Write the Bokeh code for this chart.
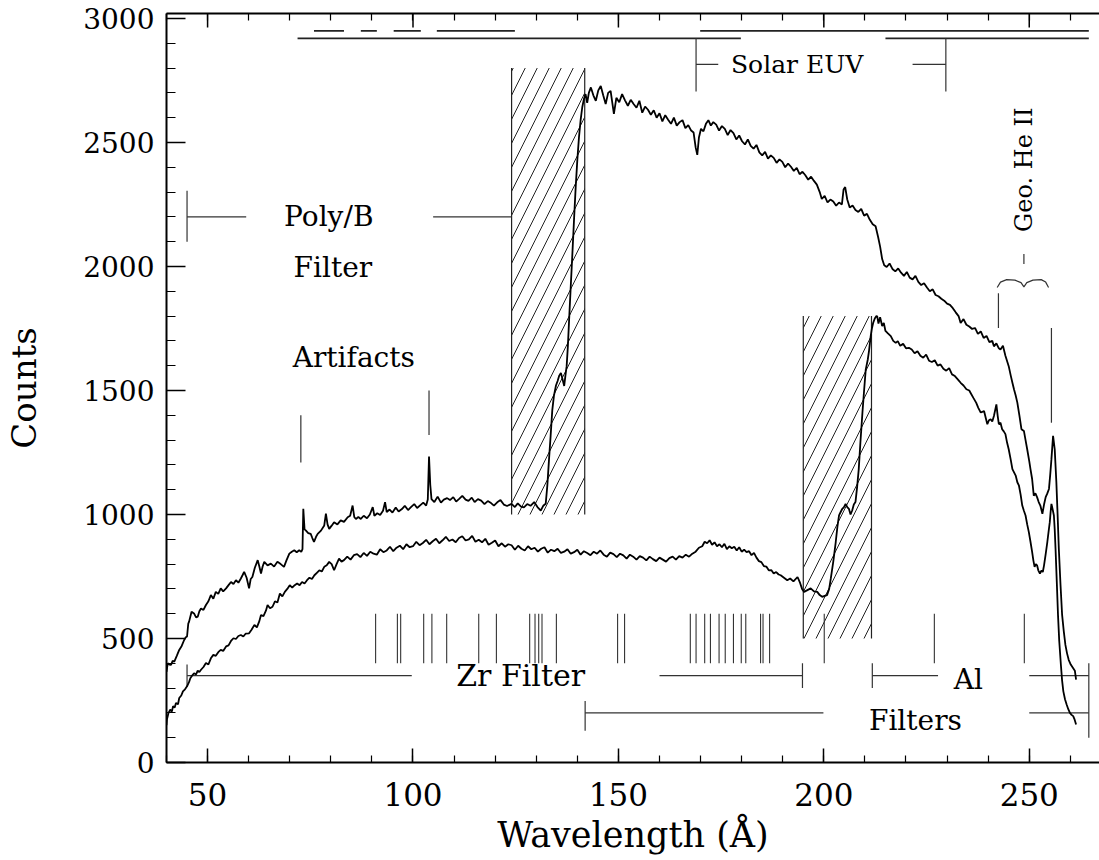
from math import pi
from bokeh.plotting import figure
from bokeh.models import Range1d, LinearAxis, FixedTicker
from bokeh.core.properties import value
from bokeh.embed import file_html
from bokeh.resources import INLINE

# ---------------- spectra (wavelength in Angstrom, counts) ----------------
upper_wl = [40.0, 40.3, 40.7, 41.1, 41.5, 41.9, 42.5, 43.1, 43.7, 44.3, 44.7, 45.0, 45.3, 45.5, 46.1, 46.7, 47.2, 47.6, 48.0, 48.4,
            49.0, 49.6, 50.2, 50.8, 51.4, 52.0, 52.6, 53.2, 53.8, 54.5, 55.1, 55.7, 56.3, 56.9, 57.5, 58.1, 58.5, 58.9, 59.5, 60.1,
            60.5, 60.9, 61.5, 62.2, 62.6, 63.0, 63.4, 63.8, 64.6, 65.4, 66.2, 67.0, 67.8, 68.6, 69.2, 69.9, 70.5, 71.1, 71.7, 72.3,
            72.8, 73.1, 73.3, 73.6, 73.9, 74.5, 75.1, 75.5, 75.9, 76.4, 76.8, 77.6, 78.4, 78.8, 79.2, 79.6, 80.2, 80.8, 81.6, 82.4,
            83.2, 84.1, 84.7, 85.3, 85.7, 86.1, 86.7, 87.3, 88.0, 88.8, 89.5, 90.2, 90.6, 91.3, 92.0, 92.7, 93.2, 93.6, 94.3, 95.0,
            95.8, 96.5, 97.3, 98.0, 98.8, 99.5, 100.3, 101.0, 101.8, 102.5, 103.2, 103.6, 103.9, 104.2, 104.5, 105.2, 106.0, 106.8, 107.5, 108.3,
            109.0, 109.8, 110.5, 111.3, 112.0, 112.8, 113.5, 114.3, 115.0, 115.8, 116.6, 117.4, 118.2, 119.0, 119.7, 120.5, 121.3, 122.1, 122.9, 124.0,
            124.8, 125.5, 126.3, 127.0, 127.8, 128.6, 129.5, 130.3, 131.1, 131.7, 132.3, 132.7, 133.1, 133.5, 133.9, 134.3, 134.8, 135.2, 135.6, 136.0,
            136.4, 136.8, 137.1, 137.4, 137.7, 138.0, 138.4, 138.8, 139.2, 139.6, 140.0, 140.4, 140.8, 141.2, 141.6, 142.0, 142.4, 142.8, 143.3, 143.9,
            144.5, 145.1, 145.7, 146.3, 146.9, 147.5, 148.1, 148.9, 149.5, 150.2, 150.9, 151.6, 152.3, 153.0, 153.7, 154.4, 155.1, 155.8, 156.5, 157.2,
            157.9, 158.6, 159.3, 160.0, 160.7, 161.4, 162.1, 162.8, 163.5, 164.2, 164.9, 165.6, 166.3, 167.0, 167.7, 168.3, 168.8, 169.2, 169.6, 170.1,
            170.7, 171.3, 171.9, 172.5, 173.1, 173.8, 174.5, 175.2, 175.9, 176.6, 177.3, 178.0, 178.7, 179.4, 180.1, 180.8, 181.5, 182.2, 182.9, 183.6,
            184.3, 185.0, 185.7, 186.4, 187.1, 187.8, 188.5, 189.2, 189.9, 190.6, 191.3, 192.0, 192.7, 193.4, 194.1, 194.8, 195.5, 196.2, 196.9, 197.6,
            198.3, 199.0, 199.5, 200.2, 200.9, 201.6, 202.3, 203.0, 203.7, 204.4, 204.8, 205.2, 205.7, 206.3, 207.0, 207.7, 208.4, 209.1, 209.8, 210.5,
            211.2, 211.9, 212.6, 213.2, 213.7, 214.2, 214.7, 215.3, 216.0, 216.7, 217.4, 218.1, 218.8, 219.5, 220.2, 220.9, 221.6, 222.3, 223.0, 223.7,
            224.4, 225.1, 225.8, 226.5, 227.2, 227.9, 228.6, 229.3, 230.0, 230.7, 231.4, 232.1, 232.8, 233.3, 234.0, 234.7, 235.4, 236.1, 236.8, 237.5,
            238.2, 238.9, 239.6, 240.3, 241.0, 241.4, 242.0, 242.6, 243.0, 243.6, 244.2, 245.0, 245.5, 245.9, 246.3, 246.7, 247.1, 247.6, 248.1, 248.7,
            249.1, 249.5, 250.0, 250.3, 250.7, 251.1, 251.5, 251.9, 252.3, 252.7, 253.2, 253.6, 254.0, 254.4, 254.8, 255.1, 255.4, 255.8, 256.2, 256.6,
            256.9, 257.2, 257.6, 258.0, 258.4, 258.8, 259.2, 259.6, 260.1, 260.7, 261.1, 261.4]
upper_counts = [365, 400, 395, 394, 410, 407, 430, 454, 470, 494, 505, 508, 560, 568, 608, 601, 585, 588, 610, 621,
                615, 635, 650, 675, 660, 688, 680, 702, 690, 702, 715, 728, 720, 735, 725, 742, 755, 769, 745, 702,
                740, 748, 785, 816, 790, 762, 790, 809, 795, 802, 790, 809, 800, 789, 815, 842, 850, 856, 848, 856,
                849, 860, 1023, 940, 936, 925, 922, 905, 889, 910, 922, 935, 956, 1003, 960, 942, 955, 969, 960, 976,
                970, 989, 995, 1036, 990, 982, 990, 982, 995, 985, 1000, 1030, 995, 1005, 998, 1015, 1050, 1010, 1020, 1008,
                1028, 1012, 1022, 1035, 1018, 1030, 1042, 1026, 1038, 1048, 1036, 1060, 1234, 1120, 1062, 1050, 1072, 1048, 1060, 1066,
                1058, 1070, 1052, 1064, 1075, 1060, 1055, 1068, 1050, 1062, 1056, 1042, 1054, 1046, 1036, 1049, 1058, 1040, 1034, 1043,
                1030, 1045, 1032, 1029, 1042, 1035, 1050, 1030, 1016, 1035, 1043, 1117, 1220, 1317, 1420, 1478, 1520, 1538, 1560, 1571,
                1545, 1518, 1560, 1598, 1680, 1785, 1920, 2053, 2190, 2320, 2430, 2521, 2590, 2642, 2675, 2695, 2660, 2700, 2722, 2690,
                2668, 2710, 2728, 2690, 2655, 2700, 2708, 2615, 2680, 2662, 2695, 2670, 2648, 2672, 2655, 2640, 2668, 2620, 2645, 2632,
                2612, 2630, 2600, 2618, 2585, 2610, 2592, 2575, 2600, 2568, 2582, 2590, 2558, 2570, 2548, 2540, 2480, 2450, 2520, 2555,
                2545, 2575, 2590, 2568, 2582, 2572, 2548, 2566, 2555, 2530, 2550, 2538, 2512, 2528, 2505, 2492, 2512, 2486, 2475, 2490,
                2460, 2448, 2462, 2435, 2448, 2438, 2418, 2432, 2422, 2400, 2415, 2402, 2385, 2398, 2372, 2382, 2368, 2350, 2362, 2345,
                2330, 2300, 2272, 2285, 2258, 2270, 2262, 2245, 2258, 2250, 2310, 2320, 2270, 2238, 2246, 2228, 2220, 2232, 2205, 2212,
                2188, 2170, 2162, 2120, 2080, 2030, 2005, 1998, 2012, 1990, 1980, 1992, 1975, 1962, 1978, 1955, 1948, 1962, 1938, 1925,
                1932, 1915, 1900, 1908, 1885, 1880, 1870, 1862, 1850, 1845, 1832, 1815, 1800, 1772, 1788, 1765, 1758, 1748, 1752, 1728,
                1738, 1712, 1720, 1695, 1700, 1678, 1690, 1670, 1665, 1680, 1640, 1598, 1560, 1531, 1504, 1480, 1451, 1400, 1344, 1337,
                1300, 1263, 1215, 1183, 1143, 1076, 1085, 1070, 1050, 1036, 1003, 1040, 1070, 1085, 1103, 1160, 1223, 1317, 1263, 1130,
                1000, 862, 720, 595, 530, 474, 440, 414, 395, 380, 370, 334]

lower_wl = [40.0, 40.1, 40.5, 40.9, 41.3, 41.6, 42.0, 42.3, 42.8, 43.1, 43.6, 44.0, 44.5, 45.0, 45.5, 45.8, 46.3, 46.7, 47.2, 47.6,
            48.0, 48.4, 49.0, 49.6, 50.2, 50.8, 51.4, 52.0, 52.6, 53.2, 53.8, 54.5, 55.1, 55.7, 56.3, 56.9, 57.5, 58.1, 58.7, 59.3,
            60.1, 60.7, 61.4, 62.0, 62.6, 63.0, 63.6, 64.2, 64.6, 65.2, 65.8, 66.4, 67.0, 67.6, 68.2, 68.8, 69.4, 70.0, 70.6, 71.2,
            71.8, 72.4, 73.0, 73.6, 74.2, 74.8, 75.4, 76.0, 76.6, 77.2, 77.8, 78.4, 79.0, 79.6, 80.2, 80.8, 81.4, 82.0, 82.6, 83.2,
            84.0, 84.8, 85.6, 86.4, 87.2, 88.0, 88.8, 89.6, 90.4, 91.2, 92.0, 92.8, 93.6, 94.4, 95.2, 96.0, 96.8, 97.6, 98.4, 99.2,
            100.0, 100.8, 101.6, 102.4, 103.2, 104.0, 104.8, 105.6, 106.4, 107.2, 108.0, 108.8, 109.6, 110.4, 111.2, 112.0, 112.8, 113.6, 114.4, 115.2,
            116.0, 116.8, 117.6, 118.4, 119.2, 120.0, 120.8, 121.6, 122.4, 123.2, 124.0, 124.8, 125.6, 126.4, 127.2, 128.0, 128.8, 129.6, 130.4, 131.2,
            132.0, 132.8, 133.6, 134.4, 135.2, 136.0, 136.8, 137.6, 138.4, 139.2, 140.0, 140.8, 141.6, 142.4, 143.2, 144.0, 144.8, 145.6, 146.4, 147.2,
            148.0, 148.8, 149.6, 150.4, 151.2, 152.0, 152.8, 153.6, 154.4, 155.2, 156.0, 156.8, 157.6, 158.4, 159.2, 160.0, 160.8, 161.6, 162.4, 163.2,
            164.0, 164.8, 165.6, 166.4, 167.2, 168.0, 168.8, 169.6, 170.4, 171.0, 171.6, 172.2, 172.8, 173.4, 174.0, 174.6, 175.2, 175.8, 176.4, 177.0,
            177.6, 178.2, 178.8, 179.4, 180.0, 180.6, 181.2, 181.8, 182.4, 183.0, 183.6, 184.2, 184.8, 185.4, 186.0, 186.6, 187.2, 187.8, 188.4, 189.0,
            189.5, 190.3, 191.1, 191.8, 192.6, 193.6, 194.2, 194.7, 195.2, 196.0, 196.8, 197.6, 198.4, 199.0, 199.6, 200.2, 200.8, 201.3, 201.7, 202.3,
            202.9, 203.3, 203.7, 204.1, 204.5, 204.9, 205.3, 205.7, 206.1, 206.5, 206.9, 207.3, 207.7, 208.1, 208.5, 208.9, 209.4, 209.8, 210.2, 210.7,
            211.0, 211.4, 211.7, 212.0, 212.4, 212.8, 213.0, 213.3, 213.7, 214.2, 214.6, 215.0, 215.6, 216.3, 216.9, 217.5, 218.0, 218.6, 219.3, 220.0,
            220.7, 221.4, 222.1, 222.8, 223.5, 224.2, 224.9, 225.6, 226.3, 227.0, 227.7, 228.4, 229.1, 229.8, 230.5, 231.2, 231.9, 232.6, 233.3, 234.0,
            234.7, 235.4, 235.7, 236.4, 237.1, 237.6, 238.2, 239.0, 239.4, 239.8, 240.2, 240.6, 241.0, 241.4, 242.0, 242.3, 242.6, 243.0, 243.4, 243.8,
            244.2, 244.6, 245.0, 245.5, 245.9, 246.3, 246.7, 247.1, 247.5, 247.9, 248.3, 248.7, 249.1, 249.5, 249.9, 250.3, 250.7, 251.0, 251.3, 251.6,
            251.9, 252.2, 252.6, 253.0, 253.3, 253.6, 254.0, 254.4, 254.7, 255.0, 255.2, 255.4, 255.7, 256.0, 256.2, 256.4, 256.7, 257.0, 257.3, 257.7,
            258.0, 258.3, 258.7, 259.1, 259.5, 259.9, 260.3, 260.7, 261.0, 261.4]
lower_counts = [150, 173, 200, 213, 205, 227, 222, 240, 235, 260, 270, 287, 295, 307, 325, 340, 352, 360, 355, 370,
                365, 374, 385, 401, 395, 420, 434, 430, 445, 454, 450, 468, 472, 490, 501, 498, 510, 514, 508, 520,
                521, 535, 555, 545, 570, 595, 590, 612, 635, 622, 628, 650, 645, 681, 670, 688, 700, 715, 705, 715,
                722, 715, 728, 722, 735, 745, 740, 755, 765, 775, 770, 789, 795, 809, 800, 775, 800, 822, 810, 816,
                830, 818, 836, 840, 828, 845, 833, 850, 842, 838, 860, 848, 855, 870, 852, 866, 874, 860, 880, 868,
                872, 890, 876, 885, 898, 880, 892, 902, 884, 896, 910, 893, 899, 888, 905, 912, 895, 900, 914, 890,
                898, 888, 902, 878, 886, 895, 872, 884, 870, 880, 876, 858, 874, 862, 855, 872, 860, 866, 850, 862,
                868, 846, 858, 852, 862, 845, 850, 860, 842, 848, 858, 838, 852, 845, 836, 850, 842, 855, 838, 830,
                846, 840, 828, 842, 835, 822, 838, 830, 818, 832, 826, 815, 830, 820, 812, 826, 818, 810, 824, 830,
                818, 832, 826, 838, 830, 842, 850, 866, 872, 890, 884, 896, 878, 888, 872, 880, 868, 882, 860, 872,
                864, 870, 855, 868, 850, 858, 848, 852, 836, 845, 826, 812, 808, 792, 790, 775, 776, 762, 768, 758,
                755, 745, 735, 742, 730, 748, 725, 700, 688, 695, 702, 690, 688, 675, 668, 672, 675, 700, 742, 810,
                889, 950, 996, 1010, 1023, 1030, 1043, 1030, 1023, 1000, 1016, 1040, 1050, 1110, 1183, 1290, 1411, 1500, 1584, 1625,
                1660, 1718, 1750, 1772, 1790, 1800, 1799, 1770, 1795, 1760, 1772, 1740, 1730, 1719, 1700, 1692, 1699, 1680, 1688, 1670,
                1672, 1665, 1650, 1658, 1640, 1632, 1645, 1620, 1615, 1622, 1600, 1605, 1588, 1580, 1590, 1565, 1558, 1545, 1531, 1520,
                1505, 1500, 1491, 1470, 1450, 1430, 1411, 1417, 1390, 1364, 1380, 1384, 1375, 1397, 1444, 1400, 1364, 1370, 1344, 1335,
                1324, 1290, 1263, 1220, 1183, 1170, 1157, 1130, 1116, 1080, 1036, 1015, 996, 960, 929, 890, 849, 815, 789, 800,
                795, 775, 762, 775, 768, 795, 840, 889, 930, 969, 1010, 1043, 1020, 996, 940, 862, 730, 595, 490, 394,
                330, 287, 255, 234, 215, 200, 192, 187, 175, 153]

# ---------------- annotations ----------------
hatch_left = [124.0, 195.0]
hatch_right = [141.8, 211.6]
hatch_bottom = [1000, 500]
hatch_top = [2800, 1800]

line_marks = [90.9, 96.2, 97.0, 102.6, 104.6, 108.2, 116.0, 120.3, 128.4, 129.7, 130.6, 131.4, 134.9, 149.8, 151.5,
              167.5, 168.9, 171.0, 172.4, 174.5, 176.0, 178.0, 179.9, 181.0, 184.6, 185.2, 186.8, 200.1, 226.9, 248.8]
line_mark_lo = 400
line_mark_hi = 600

# solar EUV bars at the top
bar_x0 = [75.9, 87.3, 95.3, 105.8, 169.9, 71.9, 215.0]
bar_x1 = [83.2, 91.2, 101.9, 124.8, 264.5, 179.8, 264.5]
bar_y = [2950, 2950, 2950, 2950, 2950, 2920, 2920]

# bracket segments
seg_x0 = [168.9, 229.7, 168.9, 221.6,
          45.0, 45.0, 104.9,
          72.7, 103.9,
          45.0, 45.0, 160.0, 194.8,
          211.8, 211.8, 250.0, 264.5,
          141.9, 141.9, 250.0,
          242.5, 255.4, 248.7]
seg_y0 = [2920, 2920, 2815, 2815,
          2100, 2200, 2200,
          1210, 1320,
          305, 350, 350, 300,
          300, 350, 350, 100,
          128, 200, 200,
          1752, 1370, 2010]
seg_x1 = [168.9, 229.7, 174.3, 229.7,
          45.0, 59.4, 124.0,
          72.7, 103.9,
          45.0, 99.7, 194.8, 194.8,
          211.8, 227.8, 264.5, 264.5,
          141.9, 199.9, 264.5,
          242.5, 255.4, 248.7]
seg_y1 = [2705, 2705, 2815, 2815,
          2305, 2200, 2200,
          1400, 1500,
          395, 350, 350, 400,
          400, 350, 350, 400,
          248, 200, 200,
          1892, 1752, 2050]

brace_wl = [242.2, 243.0, 244.5, 246.5, 248.0, 248.7, 249.4, 250.9, 252.9, 254.0, 254.7]
brace_counts = [1915, 1937, 1947, 1945, 1935, 1918, 1935, 1945, 1947, 1937, 1915]

label_text = ["Poly/B", "Filter", "Artifacts", "Al", "Filters"]
label_wl = [79.5, 80.5, 85.6, 235.2, 222.3]
label_counts = [2203, 1995, 1632, 335, 170]
euv_text, euv_wl, euv_counts = ["Solar EUV"], [193.5], [2815]
zr_text, zr_wl, zr_counts = ["Zr Filter"], [126.2], [350]
he_text, he_wl, he_counts = ["Geo. He II"], [248.7], [2390]

x_major = [50, 100, 150, 200, 250]
x_minor = list(range(40, 270, 10))
y_major = list(range(0, 3001, 500))
y_minor = list(range(0, 3001, 100))

FONT = "DejaVu Serif"
Y0, Y1 = 0, 3020
FRAME_H = 748.5

p = figure(width=1099, height=860, x_range=Range1d(40, 267.1), y_range=Range1d(Y0, Y1),
           output_backend="svg", toolbar_location=None,
           min_border_left=166, min_border_right=0, min_border_top=13, min_border_bottom=98)
p.outline_line_color = None
p.xgrid.visible = False
p.ygrid.visible = False
p.background_fill_color = "white"
p.border_fill_color = "white"

xt = FixedTicker(ticks=x_major, minor_ticks=x_minor)
yt = FixedTicker(ticks=y_major, minor_ticks=y_minor)

xa = p.xaxis[0]
xa.ticker = xt
xa.axis_label = "Wavelength (Å)"
ya = p.yaxis[0]
ya.ticker = yt
ya.axis_label = "Counts"

for ax in (xa, ya):
    ax.axis_line_width = 2
    ax.axis_line_color = "black"
    ax.major_tick_out = 0
    ax.minor_tick_out = 0
    ax.major_tick_line_width = 1.5
    ax.minor_tick_line_width = 1.2
    ax.major_label_text_font = FONT
    ax.axis_label_text_font = FONT
    ax.axis_label_text_font_style = "normal"
    ax.major_label_text_color = "black"
    ax.axis_label_text_color = "black"

xa.major_tick_in = 14
xa.minor_tick_in = 7
xa.major_label_text_font_size = "31px"
xa.major_label_standoff = 20
xa.axis_label_text_font_size = "35px"
xa.axis_label_standoff = 6

ya.major_tick_in = 19
ya.minor_tick_in = 9
ya.major_label_text_font_size = "28px"
ya.major_label_standoff = 12
ya.axis_label_text_font_size = "34px"
ya.axis_label_standoff = 36

# top frame edge: an axis without labels that carries the minor ticks
top = LinearAxis(ticker=FixedTicker(ticks=[], minor_ticks=x_minor), major_label_standoff=0,
                 major_tick_out=0, minor_tick_out=0, major_tick_in=0, minor_tick_in=7,
                 axis_line_width=2, minor_tick_line_width=1.2)
p.add_layout(top, "above")
# long top ticks at the major wavelengths (14 px long, converted to data units)
tick_len = 14 * (Y1 - Y0) / FRAME_H
p.segment(x0=x_major, y0=[Y1] * len(x_major), x1=x_major, y1=[Y1 - tick_len] * len(x_major),
          line_color="black", line_width=1.5)

# hatched filter-edge regions
p.quad(left=hatch_left, right=hatch_right, bottom=hatch_bottom, top=hatch_top,
       fill_color=None, line_color=None, hatch_pattern="/", hatch_color="#222222",
       hatch_weight=1, hatch_scale=24)
p.segment(x0=hatch_left + hatch_right, y0=hatch_bottom + hatch_bottom,
          x1=hatch_left + hatch_right, y1=hatch_top + hatch_top,
          line_color="#222222", line_width=1.2)

# line markers
p.segment(x0=line_marks, y0=[line_mark_lo] * len(line_marks), x1=line_marks, y1=[line_mark_hi] * len(line_marks),
          line_color="#333333", line_width=1.1)

# top bars
p.segment(x0=bar_x0, y0=bar_y, x1=bar_x1, y1=bar_y, line_color="#222222", line_width=1.8)

# brackets
p.segment(x0=seg_x0, y0=seg_y0, x1=seg_x1, y1=seg_y1, line_color="#333333", line_width=1.2)
p.line(brace_wl, brace_counts, line_color="#333333", line_width=1.2)

# spectra
p.line(upper_wl, upper_counts, line_color="black", line_width=1.8)
p.line(lower_wl, lower_counts, line_color="black", line_width=1.8)

# labels
common = dict(text_font=value(FONT), text_align="center", text_baseline="middle", text_color="black")
p.text(x=label_wl, y=label_counts, text=label_text, text_font_size="28px", **common)
p.text(x=euv_wl, y=euv_counts, text=euv_text, text_font_size="25px", **common)
p.text(x=zr_wl, y=zr_counts, text=zr_text, text_font_size="30px", **common)
p.text(x=he_wl, y=he_counts, text=he_text, angle=pi / 2, text_font_size="24px", **common)

open("out.html", "w").write(file_html(p, INLINE))
